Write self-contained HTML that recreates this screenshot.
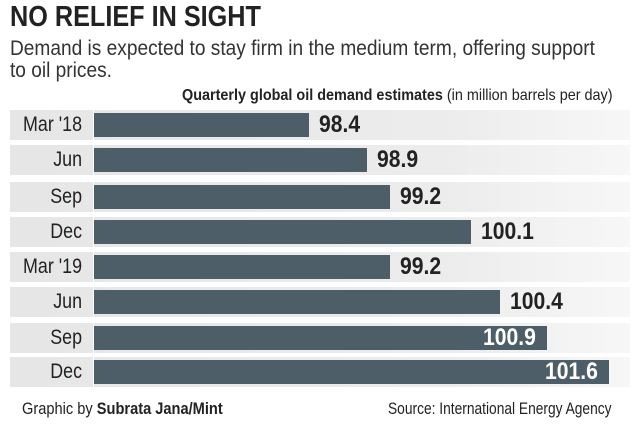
<!DOCTYPE html>
<html><head><style>
body{margin:0;width:640px;height:426px;background:#fff;font-family:"Liberation Sans",sans-serif;overflow:hidden;position:relative;color:#222}
.t{position:absolute;white-space:nowrap;transform-origin:0 0}
.row{position:absolute;left:10px;width:620px;height:30px;background:linear-gradient(90deg,#e6e6e6 0%,#ececec 70%,#f7f7f7 100%)}
.bar{position:absolute;left:93px;height:24px;background:#4e5e68}
.lab{position:absolute;width:110px;text-align:right;font-size:21px;transform:scaleX(.85);transform-origin:100% 0;left:-28px}
.v{position:absolute;font-weight:bold;font-size:24px;transform:scaleX(.88);transform-origin:0 0}
</style></head><body>
<div class="t" style="left:10px;top:1px;font-size:29px;font-weight:bold;transform:scaleX(.87)">NO RELIEF IN SIGHT</div>
<div class="t" style="left:10px;top:38px;font-size:21px;line-height:22px;transform:scaleX(.91);color:#333">Demand is expected to stay firm in the medium term, offering support<br>to oil prices.</div>
<div class="t" style="left:182px;top:87px;font-size:16px;transform:scaleX(.9)"><b>Quarterly global oil demand estimates</b> (in million barrels per day)</div>
<div id="c"></div>
<div style="position:absolute;left:93px;top:108px;width:1px;height:280px;background:#fff"></div>
<div class="t" style="left:22px;top:399px;font-size:17px;transform:scaleX(.86)">Graphic by <b>Subrata Jana/Mint</b></div>
<div class="t" style="left:388px;top:399px;font-size:17px;transform:scaleX(.81)">Source: International Energy Agency</div>
<script>
var d=[["Mar '18",98.4,309,113],["Jun",98.9,367,148],["Sep",99.2,390,185],["Dec",100.1,471,220],["Mar '19",99.2,390,255],["Jun",100.4,500,290],["Sep",100.9,547,326],["Dec",101.6,609,360]];
var h="";d.forEach(function(r,i){var y=r[3];
h+='<div class="row" style="top:'+(y-3)+'px"></div>';
h+='<div class="bar" style="top:'+y+'px;width:'+(r[2]-93)+'px"></div>';
h+='<div class="t lab" style="top:'+y+'px">'+r[0]+'</div>';
var s=r[1].toFixed(1);
if(i>=6)h+='<div class="v" style="color:#fff;top:'+(y-2)+'px;left:'+(r[2]-(s.length*11.6)-6)+'px">'+s+'</div>';
else h+='<div class="v" style="color:#222;top:'+(y-2)+'px;left:'+(r[2]+10)+'px">'+s+'</div>';});
document.getElementById("c").innerHTML=h;
</script>
</body></html>
